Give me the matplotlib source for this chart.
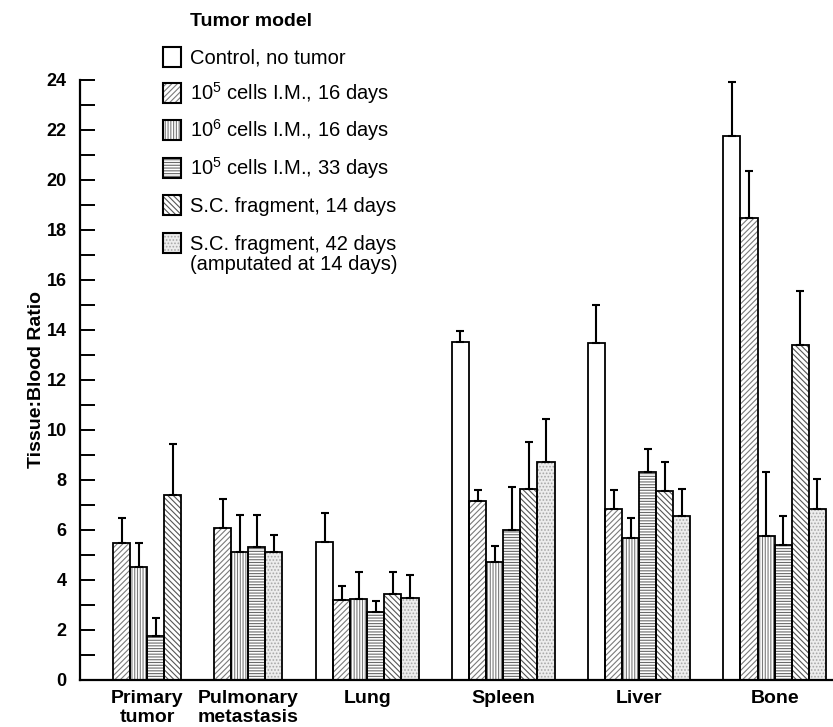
import numpy as np
import matplotlib
matplotlib.use("Agg")
import matplotlib.pyplot as plt
from matplotlib.patches import Rectangle

plt.rcParams['font.family'] = ['Liberation Sans', 'DejaVu Sans']
plt.rcParams['mathtext.fontset'] = 'custom'
plt.rcParams['mathtext.rm'] = 'Liberation Sans'
plt.rcParams['mathtext.default'] = 'regular'
plt.rcParams['hatch.linewidth'] = 0.8

# ---------------- data ----------------
categories = ["Primary\ntumor", "Pulmonary\nmetastasis", "Lung", "Spleen", "Liver", "Bone"]
series_labels = ["Control, no tumor",
                 "10$^5$ cells I.M., 16 days",
                 "10$^6$ cells I.M., 16 days",
                 "10$^5$ cells I.M., 33 days",
                 "S.C. fragment, 14 days",
                 "S.C. fragment, 42 days\n(amputated at 14 days)"]
nan = np.nan
control       = [nan, nan, 5.53, 13.52, 13.48, 21.76]
control_err   = [nan, nan, 1.16, 0.44, 1.52, 2.18]
im5_16        = [5.47, 6.07, 3.20, 7.17, 6.84, 18.50]
im5_16_err    = [1.02, 1.18, 0.57, 0.42, 0.76, 1.88]
im6_16        = [4.51, 5.13, 3.23, 4.71, 5.67, 5.76]
im6_16_err    = [0.96, 1.46, 1.08, 0.65, 0.80, 2.55]
im5_33        = [1.77, 5.31, 2.73, 6.00, 8.31, 5.40]
im5_33_err    = [0.70, 1.30, 0.44, 1.72, 0.92, 1.15]
sc_14         = [7.40, nan, 3.44, 7.64, 7.57, 13.40]
sc_14_err     = [2.04, nan, 0.87, 1.89, 1.15, 2.16]
sc_42         = [nan, 5.13, 3.29, 8.71, 6.56, 6.84]
sc_42_err     = [nan, 0.68, 0.92, 1.72, 1.07, 1.19]
y_ticks = [0, 2, 4, 6, 8, 10, 12, 14, 16, 18, 20, 22, 24]

values = [control, im5_16, im6_16, im5_33, sc_14, sc_42]
errors = [control_err, im5_16_err, im6_16_err, im5_33_err, sc_14_err, sc_42_err]

# ---------------- styles / layout ----------------
hatches = ['', '//////', '||||||', '------', '\\\\\\\\\\\\', '.....']
hatch_cols = ['white', '#7a7a7a', '#7a7a7a', '#6a6a6a', '#555555', '#a8a8a8']
face_cols = ['white', 'white', 'white', 'white', 'white', '#ededed']
group_start = [1.93, 7.84, 13.80, 21.75, 29.70, 37.62]
W, H = 833, 727
PXU = 17.1  # pixels per bar-width unit

fig = plt.figure(figsize=(W / 100, H / 100), dpi=100)
ax = fig.add_axes([80 / W, 47 / H, (W - 80) / W, 600 / H])
ax.set_xlim(0, (W - 80) / PXU)
ax.set_ylim(0, 24)

# slot positions: bars present in each group placed contiguously
slot = np.zeros((len(values), len(categories)))
for g in range(len(categories)):
    k = 0
    for s in range(len(values)):
        if not np.isnan(values[s][g]):
            slot[s, g] = group_start[g] + k + 0.5
            k += 1
        else:
            slot[s, g] = nan
group_center = []
for g in range(len(categories)):
    xs = slot[:, g][~np.isnan(slot[:, g])]
    group_center.append((xs.min() + xs.max()) / 2)

for s in range(len(values)):
    v = np.array(values[s], dtype=float)
    e = np.array(errors[s], dtype=float)
    m = ~np.isnan(v)
    x = slot[s][m]
    ax.bar(x, v[m], width=1.0, color=face_cols[s], hatch=hatches[s],
           edgecolor=hatch_cols[s], linewidth=0, zorder=2)
    ax.bar(x, v[m], width=1.0, fill=False, edgecolor='black', linewidth=1.3, zorder=3)
    ax.errorbar(x, v[m], yerr=[np.zeros(m.sum()), e[m]], fmt='none', ecolor='black',
                elinewidth=1.5, capsize=3.2, capthick=1.5, zorder=4)

# axes styling
for sp in ['top', 'right']:
    ax.spines[sp].set_visible(False)
ax.spines['left'].set_linewidth(1.6)
ax.spines['bottom'].set_linewidth(1.6)
ax.set_yticks(y_ticks)
ax.set_yticks(np.arange(0, 25, 1), minor=True)
ax.tick_params(axis='y', which='both', direction='in', length=11, width=1.4, pad=9.5)
ax.tick_params(axis='y', which='major', labelsize=13)
for t in ax.get_yticklabels():
    t.set_fontweight('bold')
ax.set_xticks(group_center)
ax.set_xticklabels(categories, fontsize=14, fontweight='bold', linespacing=1.1)
ax.tick_params(axis='x', length=0, pad=7.5)

fig.text(37 / W, 1 - 380 / H, "Tissue:Blood Ratio", rotation=90, ha='center', va='center',
         fontsize=14, fontweight='heavy')

# ---------------- legend (manual) ----------------
fx = lambda p: p / W
fy = lambda p: 1 - p / H
fig.text(fx(190), fy(21), "Tumor model", ha='left', va='center', fontsize=14,
         fontweight='heavy')
row_y = [57, 93, 130, 168, 205, 243]
for s, lab in enumerate(series_labels):
    yc = row_y[s]
    bx, bw, bh = 163, 18, 20
    fig.patches.append(Rectangle((fx(bx), fy(yc + bh / 2)), bw / W, bh / H,
                                 transform=fig.transFigure, facecolor=face_cols[s],
                                 hatch=hatches[s], edgecolor=hatch_cols[s], linewidth=0))
    fig.patches.append(Rectangle((fx(bx), fy(yc + bh / 2)), bw / W, bh / H,
                                 transform=fig.transFigure, fill=False,
                                 edgecolor='black', linewidth=1.5))
    lines = lab.split("\n")
    for i, ln in enumerate(lines):
        fig.text(fx(190), fy(yc + 7 + i * 20), ln, ha='left', va='baseline', fontsize=14.5)

fig.savefig("out.png", dpi=100)
